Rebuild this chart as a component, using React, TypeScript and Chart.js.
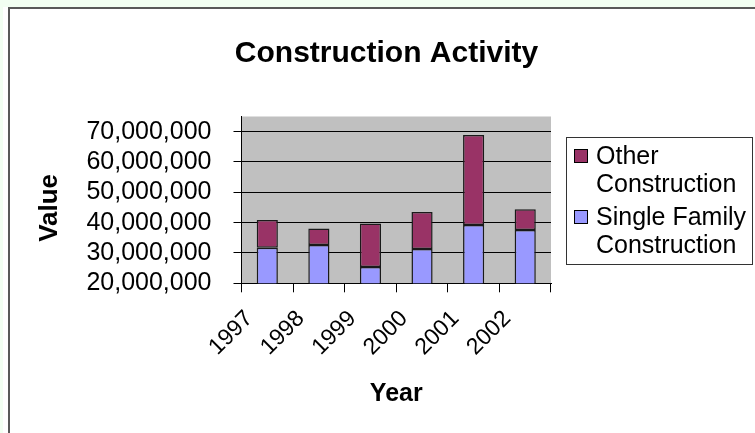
import React, { useEffect, useRef } from 'react';
import { Chart, registerables } from 'chart.js';

Chart.register(...registerables);

const FONT = '"Liberation Sans", Arial, Helvetica, sans-serif';

const chartTitle = 'Construction Activity';
const xAxisTitle = 'Year';
const yAxisTitle = 'Value';
const years = ['1997', '1998', '1999', '2000', '2001', '2002'];
const singleFamily = [31.7e6, 32.6e6, 25.4e6, 31.3e6, 39.2e6, 37.6e6];
const otherConstruction = [9.2e6, 5.5e6, 14.3e6, 12.2e6, 29.7e6, 6.8e6];
const seriesLabels = ['Single Family Construction', 'Other Construction'];
const seriesColors = ['#9999FF', '#993366'];
const yTickValues = [20e6, 30e6, 40e6, 50e6, 60e6, 70e6];
const yMin = 20e6;
const yMax = 75e6;

function wrapText(ctx: CanvasRenderingContext2D, text: string, maxWidth: number): string[] {
  const words = text.split(' ');
  const lines: string[] = [];
  let cur = '';
  for (const w of words) {
    const test = cur ? cur + ' ' + w : w;
    if (ctx.measureText(test).width > maxWidth && cur) {
      lines.push(cur);
      cur = w;
    } else {
      cur = test;
    }
  }
  if (cur) lines.push(cur);
  return lines;
}

const plotBgPlugin = {
  id: 'plotBg',
  beforeDraw(chart: any) {
    const { ctx, chartArea } = chart;
    ctx.save();
    ctx.fillStyle = '#C0C0C0';
    ctx.fillRect(chartArea.left, chartArea.top, chartArea.right - chartArea.left, chartArea.bottom - chartArea.top);
    ctx.restore();
  },
};

const titlePlugin = {
  id: 'customTitle',
  afterDraw(chart: any) {
    const { ctx, chartArea } = chart;
    ctx.save();
    ctx.font = `bold 30px ${FONT}`;
    ctx.fillStyle = '#000';
    ctx.textAlign = 'center';
    ctx.textBaseline = 'alphabetic';
    ctx.fillText(chartTitle, (chart.width + 18) / 2, 61.5);
    // y axis title
    ctx.translate(49.5, (chartArea.top + chartArea.bottom) / 2 + 8);
    ctx.rotate(-Math.PI / 2);
    ctx.font = `bold 26px ${FONT}`;
    ctx.textBaseline = 'middle';
    ctx.fillText(yAxisTitle, 0, 0);
    ctx.restore();
  },
};

const boxLegendPlugin = {
  id: 'boxLegend',
  afterDraw(chart: any) {
    const { ctx, chartArea } = chart;
    const x0 = chartArea.right + 15;
    const y0 = chartArea.top + 20;
    const w = 186;
    const h = 127;
    ctx.save();
    ctx.fillStyle = '#FFFFFF';
    ctx.fillRect(x0, y0, w, h);
    ctx.strokeStyle = '#333333';
    ctx.lineWidth = 1;
    ctx.strokeRect(Math.round(x0) + 0.5, Math.round(y0) + 0.5, w, h);
    ctx.font = `25px ${FONT}`;
    ctx.textAlign = 'left';
    ctx.textBaseline = 'alphabetic';
    const items = chart.data.datasets.map((d: any) => d).reverse();
    let y = y0 + 27.5;
    items.forEach((ds: any) => {
      const lines = wrapText(ctx, ds.label, 154);
      const sx = Math.round(x0 + 8);
      const sy = Math.round(y - 15);
      ctx.fillStyle = ds.backgroundColor;
      ctx.fillRect(sx, sy, 14, 14);
      ctx.strokeStyle = '#000';
      ctx.strokeRect(sx + 0.5, sy + 0.5, 13, 13);
      ctx.fillStyle = '#000';
      lines.forEach((ln: string) => {
        ctx.fillText(ln, x0 + 30, y);
        y += 27.7;
      });
      y += 5.6;
    });
    ctx.restore();
  },
};

export default function App() {
  const canvasRef = useRef<HTMLCanvasElement | null>(null);

  useEffect(() => {
    if (!canvasRef.current) return;
    const chart = new Chart(canvasRef.current, {
      type: 'bar',
      data: {
        labels: years,
        datasets: [
          {
            label: seriesLabels[0],
            data: singleFamily,
            backgroundColor: seriesColors[0],
            borderColor: '#1a1a1a',
            borderWidth: 1.5,
            borderSkipped: 'start',
            barPercentage: 0.41,
            categoryPercentage: 1,
            clip: 0,
          },
          {
            label: seriesLabels[1],
            data: otherConstruction,
            backgroundColor: seriesColors[1],
            borderColor: '#1a1a1a',
            borderWidth: 1.5,
            borderSkipped: false,
            barPercentage: 0.41,
            categoryPercentage: 1,
            clip: 0,
          },
        ],
      },
      options: {
        responsive: false,
        maintainAspectRatio: false,
        animation: false,
        events: [],
        layout: { padding: { left: 10, right: 204, top: 116.5, bottom: 0 } },
        plugins: {
          legend: { display: false },
          tooltip: { enabled: false },
          title: { display: false },
        },
        scales: {
          x: {
            stacked: true,
            grid: { display: true, drawOnChartArea: false, color: '#000', tickLength: 9, offset: true },
            border: { display: true, color: '#000' },
            ticks: {
              color: '#000',
              font: { family: FONT, size: 23 },
              minRotation: 45,
              maxRotation: 45,
              labelOffset: -18,
              padding: 13,
              autoSkip: false,
            },
            title: {
              display: true,
              text: xAxisTitle,
              color: '#000',
              font: { family: FONT, size: 25, weight: 'bold' },
              padding: { top: 0, bottom: 24 },
            },
            afterFit: (s: any) => {
              s.height = 149.7;
            },
          },
          y: {
            stacked: true,
            min: yMin,
            max: yMax,
            grid: { color: '#000', tickLength: 8 },
            border: { display: true, color: '#000' },
            ticks: {
              color: '#000',
              font: { family: FONT, size: 25 },
              padding: 22,
              autoSkip: false,
              callback: (v: any) => Number(v).toLocaleString('en-US'),
            },
            afterBuildTicks: (s: any) => {
              s.ticks = yTickValues.map((v) => ({ value: v }));
            },
            title: { display: false },
            afterFit: (s: any) => {
              s.width = 231.5;
            },
          },
        },
      },
      plugins: [plotBgPlugin, titlePlugin, boxLegendPlugin],
    } as any);
    return () => chart.destroy();
  }, []);

  return (
    <div style={{ position: 'fixed', left: 0, top: 0, width: 755, height: 433, background: '#F2FFF2', overflow: 'hidden' }}>
      <div style={{ position: 'absolute', left: 3, top: 7, right: 0, bottom: 0, background: '#FFFFFF' }} />
      <div
        style={{
          position: 'absolute',
          left: 8,
          top: 7,
          right: 0,
          bottom: 0,
          borderLeft: '2px solid #595959',
          borderTop: '2px solid #595959',
        }}
      />
      <canvas ref={canvasRef} width={755} height={433} style={{ position: 'absolute', left: 0, top: 0, display: 'block' }} />
    </div>
  );
}
